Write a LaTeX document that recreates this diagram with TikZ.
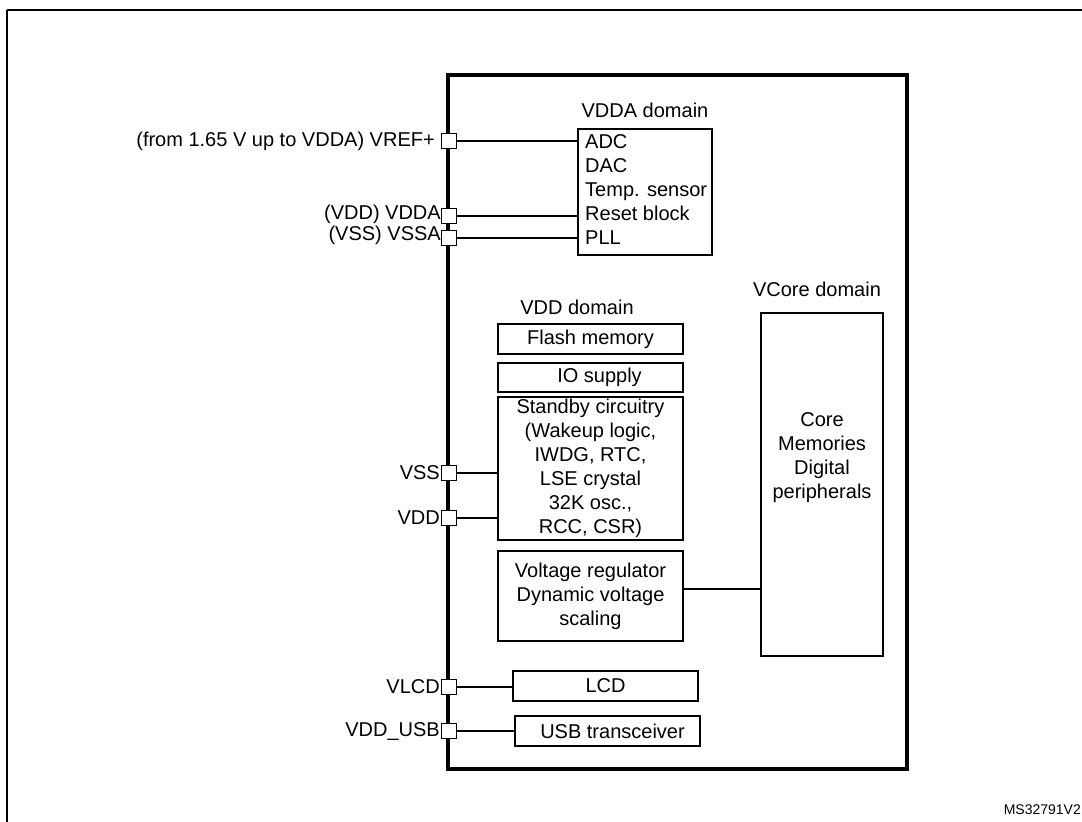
\documentclass[tikz,border=0pt]{standalone}
\usepackage{fontspec}
\setmainfont{Liberation Sans}
\begin{document}
\begin{tikzpicture}[x=1pt,y=-1pt,
  box/.style={draw,line width=2pt,inner sep=0pt},
  pin/.style={draw,fill=white,line width=1.5pt,minimum size=15pt,inner sep=0pt},
  wire/.style={line width=1.4pt},
  txt/.style={font=\fontsize{20}{24}\selectfont,inner sep=1pt}]
\useasboundingbox (0,0) rectangle (1082,822);
\draw[line width=1.8pt] (7,10) -- (1084,10);
\draw[line width=1.8pt] (7,10) -- (7,824);
\draw[line width=4pt] (448,75) rectangle (907,769);
% VDDA domain
\node[box,minimum width=134pt,minimum height=126pt] (vdda) at (645,192) {};
\node[txt] at (645,110) {VDDA domain};
\node[txt,anchor=north west,align=left] at (584,133) {ADC\\DAC\\Temp. sensor\\Reset block\\PLL};
% pins
\node[pin] (pvref) at (449,141) {};
\node[txt,anchor=east] at (436,141) {(from 1.65 V up to VDDA) VREF+};
\node[pin] (pvdda) at (449,216) {};
\node[txt,anchor=east] at (442,214) {(VDD) VDDA};
\node[pin] (pvssa) at (449,238) {};
\node[txt,anchor=east] at (442,235) {(VSS) VSSA};
\node[pin] (pvss) at (449,473) {};
\node[txt,anchor=east] at (441,473) {VSS};
\node[pin] (pvdd) at (449,518) {};
\node[txt,anchor=east] at (441,518) {VDD};
\node[pin] (pvlcd) at (449,687) {};
\node[txt,anchor=east] at (441,687) {VLCD};
\node[pin] (pusb) at (449,731) {};
\node[txt,anchor=east] at (441,731) {VDD\_USB};
\draw[wire] (pvref.east) -- (pvref.east -| vdda.west);
\draw[wire] (pvdda.east) -- (pvdda.east -| vdda.west);
\draw[wire] (pvssa.east) -- (pvssa.east -| vdda.west);
% VDD domain
\node[txt] at (577,307) {VDD domain};
\node[box,minimum width=185pt,minimum height=30pt,txt] (flash) at (590.5,339) {Flash memory};
\node[box,minimum width=185pt,minimum height=29pt,txt] (io) at (590.5,377.5) {\hspace{18pt}IO supply};
\node[box,minimum width=185pt,minimum height=143pt] (stby) at (590.5,468.5) {};
\node[txt,align=center] at (590.5,468) {Standby circuitry\\(Wakeup logic,\\IWDG, RTC,\\LSE crystal\\32K osc.,\\RCC, CSR)};
\node[box,minimum width=185pt,minimum height=90pt,txt,align=center] (vreg) at (590.5,596) {Voltage regulator\\Dynamic voltage\\scaling};
\draw[wire] (pvss.east) -- (pvss.east -| stby.west);
\draw[wire] (pvdd.east) -- (pvdd.east -| stby.west);
% VCore
\node[txt] at (817,289) {VCore domain};
\node[box,minimum width=122pt,minimum height=343pt] (core) at (822,484.5) {};
\node[txt,align=center] at (822,458) {Core\\Memories\\Digital\\peripherals};
\coordinate (a) at (683,589);
\draw[wire] (a) -- (a -| core.west);
% LCD USB
\node[box,minimum width=185pt,minimum height=30pt,txt] (lcd) at (605.5,686) {LCD};
\node[box,minimum width=185pt,minimum height=30pt,txt] (usbt) at (607.5,731) {\hspace{10pt}USB transceiver};
\draw[wire] (pvlcd.east) -- (pvlcd.east -| lcd.west);
\draw[wire] (pusb.east) -- (pusb.east -| usbt.west);
\node[font=\fontsize{14}{16}\selectfont,anchor=east,inner sep=0pt] at (1081,810) {MS32791V2};
\end{tikzpicture}
\end{document}
